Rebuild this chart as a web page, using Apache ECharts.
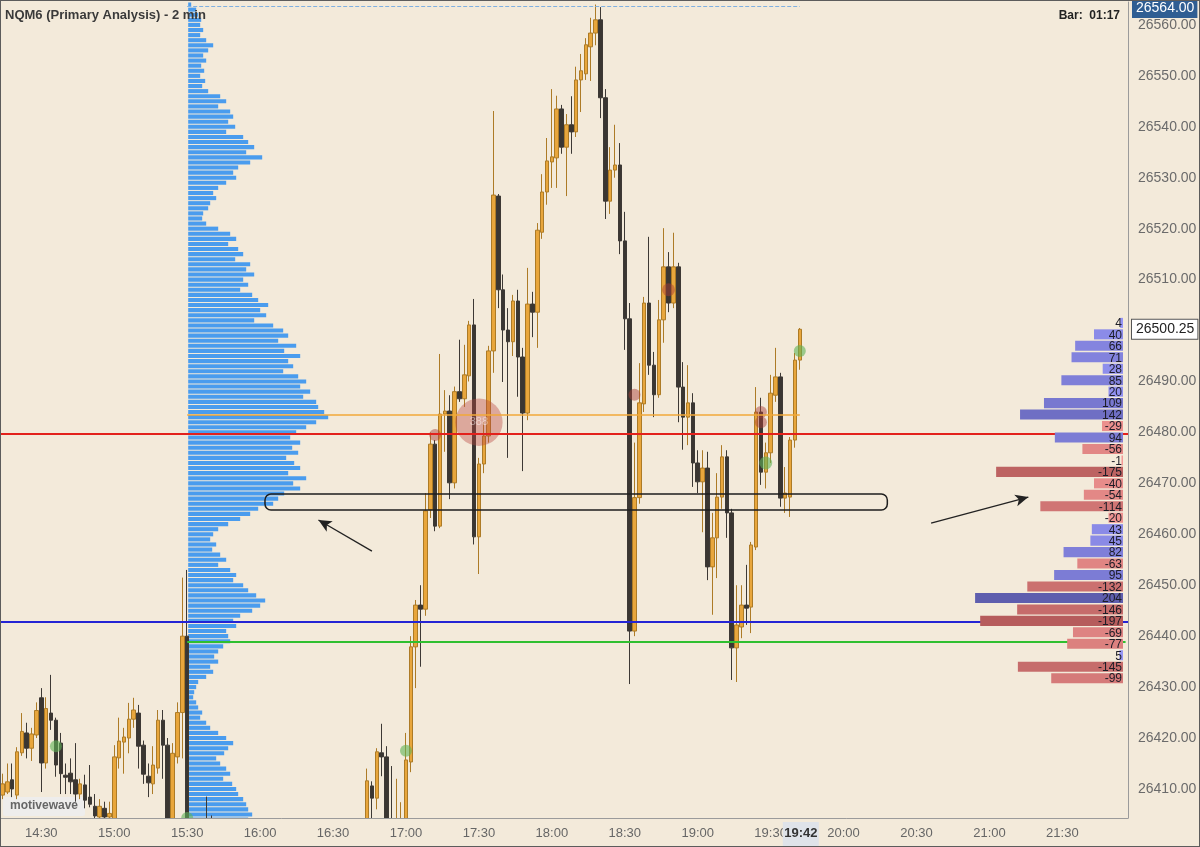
<!DOCTYPE html>
<html><head><meta charset="utf-8">
<script src="https://cdn.jsdelivr.net/npm/echarts@6/dist/echarts.min.js"></script>
<style>
html,body{margin:0;padding:0;background:#f3eada;}
#c{position:absolute;left:0;top:0;width:1200px;height:847px;}
#frame{position:absolute;left:0;top:0;width:1200px;height:847px;box-sizing:border-box;border:1px solid #5c5c5c;pointer-events:none;}
</style>
</head><body><div id="c"></div><div id="frame"></div>
<script>
// ---------- DATA ----------
const sessionStart = '14:14';
const axisEnd = '21:56';
const barMinutes = 2;
// [open, close, low, high] for each 2-min bar starting at 14:14 (null = bar outside visible price range)
const bars = [
[26408.8,26411.0,26408,26413],[26409.4,26411.4,26409,26415],[26411.8,26410.0,26408.4,26415],[26408.8,26417.3,26408,26418.2],
[26417.1,26421.3,26416.5,26424.9],[26421,26418,26416,26423],[26418,26420.8,26415.5,26422],[26420.6,26425.4,26420,26427],
[26427.9,26415.1,26409.4,26429.8],[26415.1,26425.8,26414,26428],[26424.9,26423.5,26421.6,26432.4],[26423.5,26414.7,26412.4,26424],
[26419,26413,26409,26421],[26412.7,26412.3,26409,26415],[26413.1,26411.4,26409,26416],[26411.8,26409,26407.5,26419],
[26409,26411,26408,26412],[26410.8,26407.8,26406.2,26412.8],[26408.4,26407,26406.4,26414.7],[26406.6,26404.7,26404,26409],
[26404.5,26406.6,26403,26408],[26406.2,26404.5,26403,26407.5],[26404.5,26405.2,26403,26407.5],[26404,26416.3,26402,26418.6],
[26416.1,26419.4,26414,26424],[26419.2,26420.2,26413,26422],[26420,26423.7,26417,26426.9],[26423.7,26425.5,26422,26427.9],
[26424.9,26418.4,26414,26426.5],[26418.6,26412.9,26411,26419.5],[26412.5,26411.2,26408.4,26415],[26411,26414.7,26409,26418.4],
[26414.1,26423.5,26413,26425.5],[26423.5,26418.6,26412,26425.5],[26418.6,26402,26400,26420],[26402,26417,26400,26419],
[26416.3,26425,26415,26427],[26425,26440,26416,26451.5],[26440,26398,26395,26453],
null,null,null,
[26402,26399,26396,26408.5],[26401,26398,26395,26404.8],
null,null,null,null,null,null,null,null,null,null,null,null,null,null,null,null,
null,null,null,null,null,null,null,null,null,null,null,null,null,null,null,
[26400,26411.6,26398,26414],[26410.6,26408.2,26402,26411.5],[26408.2,26417.3,26406,26418],[26417.1,26416.3,26412.5,26422.8],
[26416.3,26401,26399,26418.4],[26403,26400,26398,26414.5],[26399,26402,26397,26412],[26399,26402,26397,26407.4],
[26401,26415.7,26399,26421],[26415.3,26437.9,26413.3,26440],[26437.9,26446.1,26429.8,26447.1],[26446.1,26445.3,26434,26450],
[26445.3,26464.6,26444,26468.1],[26464.8,26477.7,26463.2,26480],[26477.7,26461.6,26460.6,26478.5],[26461.6,26483.6,26461.2,26495.4],
[26483.6,26484.2,26476.2,26488.3],[26484.2,26470.1,26466.9,26487.3],[26470.1,26488,26469,26489],[26488,26486.6,26486,26498.2],
[26486.6,26491.3,26485,26497.2],[26491.1,26501.1,26490,26501.9],[26501.1,26459.5,26458,26506.2],[26459.5,26473.8,26452.2,26475],
[26473.8,26479.3,26472,26482],[26479.3,26496,26478,26497],[26496,26526.6,26491.7,26543.1],[26526.4,26508,26504.4,26526.8],
[26508,26500.1,26489.9,26511],[26500.1,26497.8,26475,26504.4],[26497.8,26505.8,26495,26507],[26505.8,26494.8,26487,26508],
[26494.8,26483.8,26472.4,26496.6],[26483.8,26505.2,26482.4,26512.3],[26505.2,26503.6,26498.7,26507.6],[26503.6,26519.7,26496.6,26521.1],
[26519.3,26527.2,26518,26530.7],[26527.2,26533.3,26524.7,26537.8],[26533.1,26534.1,26528,26547.4],[26533.9,26543.5,26528,26546.1],
[26543.5,26536,26534.7,26544.3],[26536,26540.4,26526.4,26542.5],[26540.4,26539,26534.7,26546],[26539,26549.2,26538,26551.8],
[26549.2,26551,26542.9,26554.3],[26550.4,26556.1,26549.2,26557.4],[26555.7,26558.4,26549,26561.4],[26558.4,26561,26556,26564],
[26561,26545.7,26541.7,26563.5],[26545.7,26525.4,26521.9,26547.4],[26525.4,26531.5,26522.9,26536],[26531.5,26532.5,26530,26540.4],
[26532.5,26517.6,26515,26536.8],[26517.6,26502.3,26496.2,26523.3],[26502.3,26441,26430.6,26505.4],[26441,26467.2,26440,26478],
[26467.2,26485.8,26466,26493.6],[26485.6,26505.4,26484,26506.6],[26505.4,26493.2,26491.3,26518.4],[26493.2,26487.4,26483,26495.8],
[26487.4,26502.1,26486.8,26506],[26502.1,26512.5,26497.6,26520.1],[26512.5,26505.4,26503.6,26515.4],[26505.4,26512.5,26504.4,26519.2],
[26512.5,26488.9,26482,26513.3],[26488.9,26483,26476.6,26493.8],[26483,26485.8,26477.5,26493.2],[26485.8,26474,26469.3,26487.7],
[26474,26470.3,26468.1,26476.5],[26470.3,26473,26460.4,26476.5],[26473,26453.6,26451,26476.2],[26453.6,26459.3,26444.2,26464.2],
[26459.3,26467.3,26451.4,26472],[26467.3,26475.2,26465,26477.5],[26475.2,26464.2,26459.3,26476.5],[26464.2,26437.7,26431.4,26465],
[26437.7,26442.2,26431,26450],[26441.8,26446.1,26439.6,26450],[26446.1,26445.5,26442.2,26454],[26445.7,26457.9,26440.6,26458.5],
[26457.5,26484,26456.9,26488.9],[26484,26472.2,26469.7,26486.8],[26472.2,26476,26469,26478],[26476,26487.7,26474,26491.3],
[26487.3,26490.9,26486,26496.6],[26490.9,26467.1,26465.4,26491.7],[26467.1,26468.1,26464.2,26473.2],[26467.3,26478.5,26463.4,26479.1],
[26478.5,26494.2,26477,26495.6],[26494.2,26500.25,26492.3,26500.5]
];

// Session volume profile: one value per 1-point level, from profileTop downward
const profileTop = 26564;
const profileStart = '15:30';
const profileVolume = [
3,8,10,13,12,15,12,18,25,20,
15,18,13,16,12,17,14,20,32,38,
30,42,45,40,47,38,55,60,66,58,
74,62,50,45,48,38,30,25,28,22,
20,15,14,18,30,42,48,40,50,55,
47,62,58,66,55,60,52,64,70,80,
72,78,66,85,95,100,90,108,96,112,
100,105,95,110,118,112,122,115,128,130,
136,140,128,118,108,102,112,104,110,98,
106,112,100,118,105,112,96,90,85,70,
62,52,40,30,25,22,28,24,32,38,
30,42,48,45,55,60,68,77,72,64,
52,45,48,38,40,42,35,30,26,30,
22,25,18,10,8,6,5,8,10,14,
12,18,22,30,38,45,40,36,28,32,
38,42,35,44,48,50,55,58,60,64,
60
];

// Delta profile (right side)
const deltaPrices = [26501.5,26499.25,26497,26494.75,26492.5,26490.25,26488,26485.75,26483.5,26481.25,26479,26476.75,26474.5,26472.25,26470,26467.75,
26465.5,26463.25,26461,26458.75,26456.5,26454.25,26452,26449.75,26447.5,26445.25,26443,26440.75,26438.5,26436.25,26434,26431.75];
const deltaValues = [4,40,66,71,28,85,20,109,142,-29,94,-56,-1,-175,-40,-54,-114,-20,43,45,82,-63,95,-132,204,-146,-197,-69,-77,5,-145,-99];

// Key levels
const levels = {red:26479.75, blue:26442.75, green:26439, poc:26483.5, sessionHigh:26563.75, highTag:26564, last:26500.25};
const lastBarTime = '19:42';

// Order-flow bubbles: [time, price, volume, side, label]
const bubbles = [
['17:30',26482,388,'sell','388'],['17:12',26479.5,4,'sell',''],['18:34',26487.4,4,'sell',''],['18:48',26508,6,'sell',''],
['19:26',26484,4,'sell',''],['19:26',26482,4,'sell',''],['19:28',26474,6,'buy',''],['19:42',26496,4,'buy',''],
['17:00',26417.5,4,'buy',''],['14:36',26418.4,4,'buy',''],['15:30',26404.3,4,'buy','']
];
// Annotations
const boxAnnotation = {from:'16:02', to:'20:18', low:26464.75, high:26467.9};
const arrows = [['16:46',26456.7,'16:24',26462.8],['20:36',26462.2,'21:16',26467.3]];

// ---------- BUILD ----------
const toMin = t => { const [h,m] = t.split(':').map(Number); return h*60+m; };
const fmt = m => String(Math.floor(m/60)).padStart(2,'0')+':'+String(m%60).padStart(2,'0');
const times = [];
for (let m = toMin(sessionStart); m <= toMin(axisEnd); m += barMinutes) times.push(fmt(m));
const idx = t => times.indexOf(t);
const candleData = times.map((t,i) => (i < bars.length && bars[i]) ? bars[i] : '-');

const FONT = 'Liberation Sans, Arial, sans-serif';
const BG = '#f3eada';
const GRID = {left:0, right:72, top:2, bottom:29};
const profilePx = 1.0;     // px per volume unit
const deltaPx = 0.725;     // px per delta unit
const deltaStep = deltaPrices[0] - deltaPrices[1];

function mix(a,b,t){ return 'rgb('+a.map((v,i)=>Math.round(v+(b[i]-v)*t)).join(',')+')'; }
function deltaColor(d){
  const t = Math.min(1, Math.abs(d)/210);
  return d >= 0 ? mix([150,150,246],[92,92,172],t) : mix([244,152,150],[178,88,88],t);
}

const profileData = profileVolume.map((v,i) => [idx(profileStart), profileTop - i, v]);
const deltaData = deltaPrices.map((p,i) => [0, p, deltaValues[i]]);
const tagLine = {color:'rgba(0,0,0,0)', width:0};

const chart = echarts.init(document.getElementById('c'));
const option = {
  animation:false,
  backgroundColor:BG,
  textStyle:{fontFamily:FONT},
  grid:GRID,
  xAxis:{
    type:'category', data:times, boundaryGap:true, z:60,
    axisLine:{lineStyle:{color:'#9b9b9b'}}, axisTick:{show:false}, splitLine:{show:false},
    axisLabel:{interval:(i,v)=>/:(00|30)$/.test(v), color:'#666', fontSize:13, margin:9, fontFamily:FONT}
  },
  yAxis:{
    type:'value', position:'right', min:26404.3, max:26564.5, splitNumber:16, z:0,
    axisLine:{show:true, lineStyle:{color:'#9b9b9b'}}, axisTick:{show:false}, splitLine:{show:false},
    axisLabel:{color:'#6b6b6b', fontSize:14, margin:10, showMinLabel:false, showMaxLabel:false,
      formatter:v=>v.toFixed(2), fontFamily:FONT}
  },
  graphic:[
    // mask hiding the parts of candles below the plot (time axis strip)
    {type:'rect', left:0, bottom:0, z:50, silent:true, shape:{width:1128, height:28}, style:{fill:BG}},
    {type:'text', left:5, top:9, z:100, style:{text:'NQM6 (Primary Analysis) - 2 min', font:'bold 13px '+FONT, fill:'#3a3a3a'}},
    {type:'text', right:80, top:10, z:100, style:{text:'Bar:  01:17', font:'bold 12px '+FONT, fill:'#222'}},
    {type:'group', left:3, top:797, z:100, children:[
      {type:'rect', shape:{x:0,y:0,width:82,height:19,r:2}, style:{fill:'rgba(237,237,237,0.95)'}},
      {type:'text', x:7, y:3, style:{text:'motivewave', font:'bold 12px '+FONT, fill:'#666'}}
    ]}
  ],
  series:[
    { // volume profile
      type:'custom', name:'profile', z:1, clip:true,
      data:profileData, encode:{x:0, y:1},
      renderItem:(params, api) => {
        const x0 = api.coord([api.value(0), api.value(1)])[0];
        const p = api.value(1), v = api.value(2);
        const y0 = api.coord([0, p+0.5])[1], y1 = api.coord([0, p-0.5])[1];
        return {type:'rect', shape:{x:x0+1, y:y0+0.5, width:v*profilePx, height:(y1-y0)-1}, style:{fill:'#4a9cee'}};
      }
    },
    { // candles
      type:'candlestick', name:'NQM6', z:3, barWidth:4, data:candleData,
      itemStyle:{color:'#e8a63c', color0:'#3a3632', borderColor:'#ad7b26', borderColor0:'#3d3935', borderWidth:1},
      markLine:{
        silent:true, symbol:['none','none'], animation:false, label:{show:false},
        data:[
          {yAxis:levels.red, lineStyle:{color:'#e3211c', width:2, type:'solid'}},
          {yAxis:levels.blue, lineStyle:{color:'#2424d4', width:2, type:'solid'}},
          [{coord:[idx(profileStart), levels.green], lineStyle:{color:'#2fbf2f', width:2, type:'solid'}}, {coord:[times.length-1, levels.green]}],
          [{coord:[idx(profileStart), levels.poc], lineStyle:{color:'#f2a838', width:1.5, type:'solid'}}, {coord:[idx(lastBarTime), levels.poc]}],
          [{coord:[idx(profileStart), levels.sessionHigh], lineStyle:{color:'#7fb0e0', width:1, type:'dashed'}}, {coord:[idx(lastBarTime), levels.sessionHigh]}],
          {yAxis:levels.highTag, lineStyle:tagLine, label:{show:true, position:'end', distance:4, offset:[0,4], formatter:p=>Number(p.value).toFixed(2),
            backgroundColor:'#2f5e93', color:'#fff', fontSize:14, padding:[3,3,2,4], fontFamily:FONT}},
          {yAxis:levels.last, lineStyle:tagLine, label:{show:true, position:'end', distance:4, formatter:p=>Number(p.value).toFixed(2),
            backgroundColor:'#ffffff', borderColor:'#555', borderWidth:1, color:'#222', fontSize:14, padding:[3,3,2,4], fontFamily:FONT}},
          ...arrows.map(a => [
            {coord:[idx(a[0]), a[1]], symbol:'none', lineStyle:{color:'#222', width:1.3, type:'solid'}},
            {coord:[idx(a[2]), a[3]], symbol:'arrow', symbolSize:[9,13]}
          ])
        ]
      }
    },
    { // bubbles
      type:'scatter', name:'bubbles', z:4,
      data:bubbles.map(b => ({
        value:[idx(b[0]), b[1]],
        symbolSize: 8 + Math.sqrt(b[2])*2,
        itemStyle:{color: b[3]==='sell' ? (b[2]>50 ? 'rgba(186,70,62,0.5)' : 'rgba(170,62,55,0.6)') : 'rgba(96,178,86,0.75)'},
        label:{show: !!b[4], formatter: b[4], color:'rgba(255,255,255,0.6)', fontSize:11, position:'inside'}
      }))
    },
    { // delta profile
      type:'custom', name:'delta', z:5, clip:false,
      data:deltaData, encode:{x:0, y:1},
      renderItem:(params, api) => {
        const cs = params.coordSys;
        const p = api.value(1), d = api.value(2);
        const yc = api.coord([0, p])[1];
        const rowH = Math.abs(api.coord([0, p+deltaStep/2])[1] - api.coord([0, p-deltaStep/2])[1]);
        const right = cs.x + cs.width - 5;
        const w = Math.max(1.5, Math.abs(d)*deltaPx);
        return {type:'group', children:[
          {type:'rect', shape:{x:right-w, y:yc-rowH/2+0.7, width:w, height:rowH-1.4}, style:{fill:deltaColor(d)}},
          {type:'text', x:right-1, y:yc+1, style:{text:String(d), align:'right', verticalAlign:'middle',
            textAlign:'right', textVerticalAlign:'middle', font:'12px '+FONT, fill:'#1c1c26'}}
        ]};
      }
    },
    { // rounded box annotation
      type:'custom', name:'box', z:6, clip:false,
      data:[[idx(boxAnnotation.from), boxAnnotation.low, idx(boxAnnotation.to), boxAnnotation.high]],
      encode:{x:[0,2], y:[1,3]},
      renderItem:(params, api) => {
        const a = api.coord([api.value(0), api.value(3)]);
        const b = api.coord([api.value(2), api.value(1)]);
        return {type:'rect', shape:{x:a[0], y:a[1], width:b[0]-a[0], height:b[1]-a[1], r:6},
          style:{fill:'none', stroke:'#1e1e1e', lineWidth:1.5}};
      }
    },
    { // current bar time tag on the time axis
      type:'custom', name:'timeTag', z:70, clip:false,
      data:[[idx(lastBarTime), levels.last]], encode:{x:0, y:1},
      renderItem:(params, api) => {
        const cs = params.coordSys;
        const x = api.coord([api.value(0), api.value(1)])[0];
        const yb = cs.y + cs.height;
        return {type:'group', children:[
          {type:'rect', shape:{x:x-17, y:yb+4, width:36, height:24}, style:{fill:'#dfe3e9'}},
          {type:'text', x:x+1, y:yb+15, style:{text:lastBarTime, align:'center', verticalAlign:'middle',
            textAlign:'center', textVerticalAlign:'middle', font:'bold 13px '+FONT, fill:'#333'}}
        ]};
      }
    }
  ]
};
chart.setOption(option);
</script>
</body></html>
